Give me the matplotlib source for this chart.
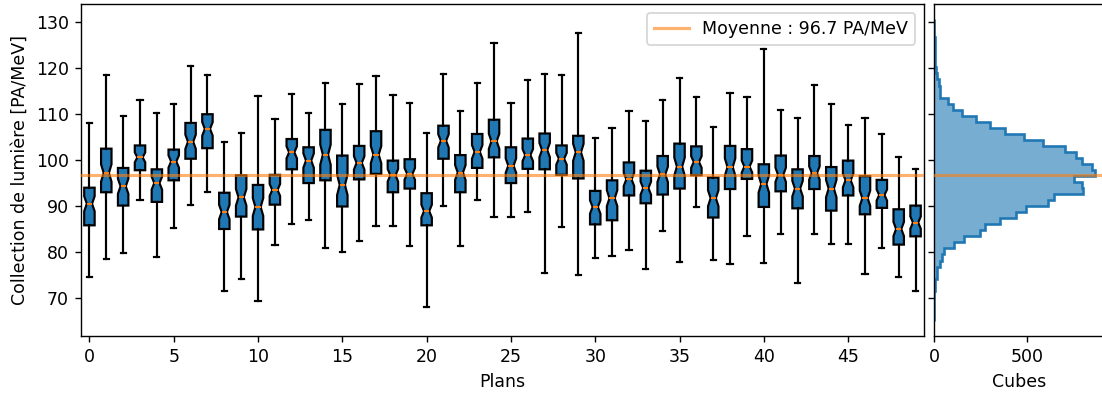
import numpy as np
import matplotlib
matplotlib.use("Agg")
import matplotlib.pyplot as plt

plt.rcParams['font.family'] = ['DejaVu Sans']
plt.rcParams['font.size'] = 10

# ---- per-plane box statistics (PA/MeV) ----
planes = list(range(50))
whislo = [74.5, 78.5, 79.8, 91.4, 78.9, 85.2, 90.3, 93.1, 71.5, 74.2,
          69.4, 81.5, 86.1, 86.9, 80.8, 80.0, 82.4, 85.7, 85.7, 81.3,
          68.1, 90.1, 81.3, 91.3, 87.7, 87.6, 88.7, 75.5, 85.5, 75.0,
          78.7, 79.1, 80.4, 76.3, 84.6, 77.9, 89.8, 78.3, 77.4, 83.5,
          77.5, 83.9, 73.3, 83.9, 81.8, 81.8, 75.1, 80.8, 74.6, 71.6]
q1 = [85.8, 93.0, 90.1, 97.8, 90.9, 95.6, 100.3, 102.6, 85.0, 87.7,
      84.9, 90.3, 98.0, 95.0, 95.6, 89.9, 95.8, 97.0, 93.0, 93.8,
      85.8, 100.3, 93.0, 98.3, 100.6, 95.0, 98.1, 98.0, 96.8, 96.0,
      86.0, 86.9, 92.3, 90.6, 92.5, 93.8, 96.7, 87.5, 93.7, 95.9,
      89.8, 93.2, 89.5, 93.7, 89.0, 92.3, 88.2, 89.6, 81.6, 83.4]
med = [90.5, 97.2, 94.3, 100.6, 95.0, 99.7, 104.0, 106.8, 88.7, 91.9,
       89.8, 93.5, 101.7, 99.9, 101.2, 94.6, 99.4, 101.2, 96.7, 97.0,
       88.9, 104.2, 97.3, 101.8, 104.1, 98.8, 101.1, 102.2, 100.3, 101.7,
       89.8, 91.7, 95.8, 93.9, 96.9, 98.6, 99.6, 91.7, 98.5, 98.6,
       94.8, 96.8, 93.8, 97.2, 93.8, 95.6, 91.7, 92.4, 85.0, 86.4]
q3 = [94.0, 102.5, 98.3, 103.2, 98.0, 102.3, 108.1, 110.0, 92.9, 96.7,
      94.6, 96.8, 104.6, 102.8, 106.6, 101.0, 103.1, 106.3, 99.9, 100.2,
      92.8, 107.5, 101.1, 105.7, 108.8, 102.8, 104.7, 105.8, 103.2, 105.3,
      93.3, 95.6, 99.5, 97.7, 100.9, 103.6, 103.0, 96.2, 103.1, 102.4,
      99.1, 101.0, 98.0, 100.9, 98.5, 99.9, 96.5, 95.7, 89.3, 90.1]
whishi = [108.1, 118.5, 109.7, 113.2, 110.3, 112.2, 120.5, 118.5, 103.9, 106.0,
          114.0, 108.9, 114.5, 110.2, 116.7, 112.3, 116.5, 118.3, 114.2, 112.4,
          106.0, 118.8, 110.8, 116.9, 125.6, 112.4, 117.5, 118.8, 118.5, 127.7,
          104.8, 107.1, 110.7, 108.6, 113.2, 117.9, 113.7, 107.3, 114.7, 113.7,
          124.2, 110.9, 109.1, 116.3, 112.3, 107.6, 109.2, 105.7, 100.7, 98.0]
n_per_plane = 62  # sample size used for the notch confidence interval

mean_value = 96.7
mean_label = 'Moyenne : 96.7 PA/MeV'

# ---- histogram of all cubes ----
hist_lo, hist_hi, n_bins = 65.0, 130.7, 50
hist_counts = [1, 1, 1, 2, 2, 3, 5, 18, 18, 32,
               43, 56, 108, 162, 248, 277, 356, 442, 496, 615,
               649, 802, 797, 755, 867, 853, 797, 764, 705, 586,
               486, 385, 302, 225, 153, 100, 77, 32, 30, 25,
               18, 11, 8, 6, 4, 3, 3, 2, 1, 1]

# ---- figure ----
W, H, DPI = 1102, 394, 125
fig = plt.figure(figsize=(W / DPI, H / DPI), dpi=DPI)
ax = fig.add_axes([81 / W, 58 / H, 843 / W, 332 / H])
axh = fig.add_axes([934 / W, 58 / H, 170 / W, 332 / H], sharey=ax)

stats = []
for i in planes:
    iqr = q3[i] - q1[i]
    half = 1.57 * iqr / np.sqrt(n_per_plane)
    stats.append(dict(med=med[i], q1=q1[i], q3=q3[i], whislo=whislo[i], whishi=whishi[i],
                      cilo=med[i] - half, cihi=med[i] + half, fliers=[]))

lw = 1.25
ax.bxp(stats, positions=planes, widths=0.62, patch_artist=True, shownotches=True,
       showfliers=False,
       boxprops=dict(facecolor='#1f77b4', edgecolor='black', linewidth=lw),
       whiskerprops=dict(color='black', linewidth=lw),
       capprops=dict(color='black', linewidth=lw),
       medianprops=dict(color='#ff7f0e', linewidth=lw))

ax.axhline(mean_value, color='#ff7f0e', alpha=0.6, lw=1.8, label=mean_label, zorder=5)
ax.set_xlim(-0.5, 49.5)
ax.set_ylim(61.7, 134.0)
ax.set_xticks(range(0, 50, 5))
ax.set_xticklabels([str(t) for t in range(0, 50, 5)])
ax.set_yticks(range(70, 131, 10))
ax.set_xlabel('Plans')
ax.set_ylabel('Collection de lumière [PA/MeV]')
ax.legend(loc='upper right')

edges = np.linspace(hist_lo, hist_hi, n_bins + 1)
axh.stairs(hist_counts, edges, orientation='horizontal', fill=True,
           color='#1f77b4', alpha=0.6, baseline=0)
axh.stairs(hist_counts, edges, orientation='horizontal', fill=False,
           color='#1f77b4', lw=1.5, baseline=0)
axh.axhline(mean_value, color='#ff7f0e', alpha=0.6, lw=1.8, zorder=5)
axh.set_xlim(0, 917)
axh.set_xticks([0, 500])
axh.set_xlabel('Cubes')
axh.tick_params(axis='y', labelleft=False)

fig.savefig('out.png', dpi=DPI)
